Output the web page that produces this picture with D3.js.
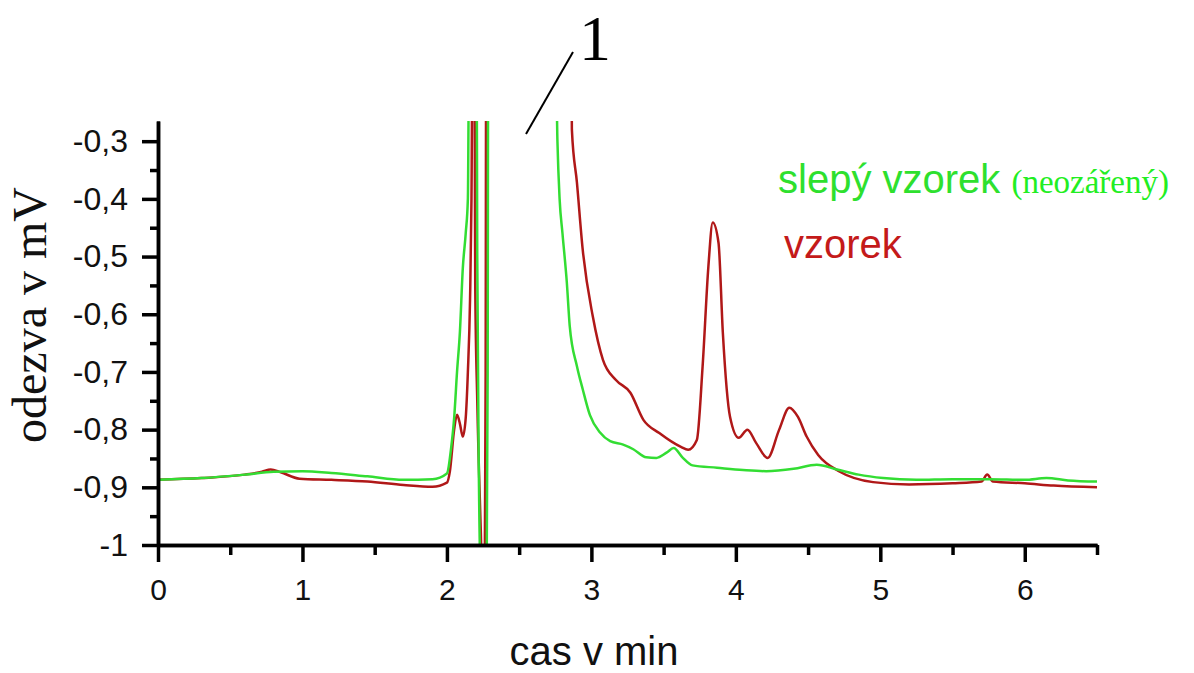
<!DOCTYPE html>
<html>
<head>
<meta charset="utf-8">
<script src="https://cdn.jsdelivr.net/npm/d3@7"></script>
<style>
  body { margin: 0; background: #fff; }
  svg { display: block; }
</style>
</head>
<body>
<svg width="1194" height="673"></svg>
<script>
// slepý vzorek (green) - cas v min / odezva v mV
const blankX = [0, 0.3, 0.6, 0.8, 1.0, 1.2, 1.45, 1.7, 1.9, 2.0, 2.03, 2.05, 2.07, 2.09, 2.11, 2.13, 2.145,
  2.155, 2.205, 2.21, 2.222, 2.235, 2.275, 2.282, 2.286, 2.75, 2.765, 2.78, 2.80, 2.83, 2.85, 2.90, 2.94, 2.99,
  3.06, 3.13, 3.22, 3.29, 3.38, 3.45, 3.52, 3.57, 3.63, 3.70, 3.87, 4.05, 4.21, 4.40, 4.56, 4.70, 4.85, 5.02,
  5.25, 5.5, 5.75, 6.0, 6.15, 6.3, 6.5];
const blankY = [-0.887, -0.884, -0.878, -0.873, -0.872, -0.875, -0.881, -0.887, -0.886, -0.876, -0.83, -0.78,
  -0.70, -0.63, -0.52, -0.46, -0.40, -0.1, -0.1, -0.5, -0.9, -1.05, -1.05, -0.7, -0.1, -0.1, -0.30, -0.40, -0.46,
  -0.545, -0.62, -0.69, -0.73, -0.775, -0.805, -0.82, -0.826, -0.834, -0.848, -0.849, -0.840, -0.832, -0.848,
  -0.862, -0.866, -0.870, -0.872, -0.868, -0.861, -0.869, -0.878, -0.884, -0.887, -0.886, -0.886, -0.887, -0.884,
  -0.888, -0.890];

// vzorek (red)
const sampleX = [0, 0.3, 0.6, 0.72, 0.78, 0.85, 0.98, 1.2, 1.45, 1.7, 1.9, 2.0, 2.02, 2.05, 2.07, 2.09, 2.11,
  2.13, 2.145, 2.16, 2.17, 2.178, 2.19, 2.196, 2.21, 2.235, 2.243, 2.262, 2.268, 2.272, 2.86, 2.865, 2.90, 2.94,
  3.01, 3.08, 3.17, 3.27, 3.36, 3.47, 3.62, 3.67, 3.73, 3.77, 3.81, 3.84, 3.88, 3.91, 3.96, 4.02, 4.08, 4.14,
  4.22, 4.30, 4.37, 4.43, 4.49, 4.57, 4.72, 4.95, 5.2, 5.5, 5.7, 5.74, 5.78, 6.0, 6.2, 6.5];
const sampleY = [-0.887, -0.884, -0.878, -0.873, -0.869, -0.874, -0.885, -0.887, -0.890, -0.896, -0.899, -0.892,
  -0.873, -0.80, -0.774, -0.79, -0.812, -0.78, -0.70, -0.575, -0.40, -0.1, -0.1, -0.55, -0.75, -0.98, -1.05,
  -1.05, -0.7, -0.1, -0.1, -0.28, -0.372, -0.488, -0.604, -0.679, -0.714, -0.736, -0.783, -0.806, -0.830, -0.835,
  -0.818, -0.69, -0.517, -0.441, -0.476, -0.632, -0.778, -0.814, -0.800, -0.823, -0.849, -0.800, -0.762, -0.778,
  -0.812, -0.844, -0.873, -0.891, -0.895, -0.893, -0.890, -0.878, -0.890, -0.893, -0.897, -0.900];

const xTicks = [0, 1, 2, 3, 4, 5, 6];
const xMinor = [0.5, 1.5, 2.5, 3.5, 4.5, 5.5, 6.5];
const yTicks = [-1, -0.9, -0.8, -0.7, -0.6, -0.5, -0.4, -0.3];
const yMinor = [-0.95, -0.85, -0.75, -0.65, -0.55, -0.45, -0.35];

const svg = d3.select('svg');
const x = d3.scaleLinear().domain([0, 6.5]).range([158, 1097]);
const y = d3.scaleLinear().domain([-1, -0.265]).range([545, 121]);
const fmt = d => d === -1 ? '-1' : d3.format('.1f')(d).replace('.', ',').replace('−', '-');

svg.append('clipPath').attr('id', 'plot')
  .append('rect').attr('x', 158).attr('y', 121).attr('width', 950).attr('height', 424);

const line = d3.line().x(d => x(d[0])).y(d => y(d[1])).curve(d3.curveMonotoneX);
const red = sampleX.map((v, i) => [v, sampleY[i]]);
const green = blankX.map((v, i) => [v, blankY[i]]);

const g = svg.append('g').attr('clip-path', 'url(#plot)');
g.append('path').datum(red).attr('d', line)
  .attr('fill', 'none').attr('stroke', '#b01818').attr('stroke-width', 2.5).attr('stroke-linejoin', 'round');
g.append('path').datum(green).attr('d', line)
  .attr('fill', 'none').attr('stroke', '#33dd33').attr('stroke-width', 2.5).attr('stroke-linejoin', 'round');

// axes
const yAxis = svg.append('g').attr('transform', 'translate(158,0)')
  .call(d3.axisLeft(y).tickValues(yTicks).tickSize(16).tickPadding(14).tickSizeOuter(0).tickFormat(fmt));
svg.append('g').attr('transform', 'translate(158,0)')
  .call(d3.axisLeft(y).tickValues(yMinor).tickSize(8).tickSizeOuter(0).tickFormat(''));
const xAxis = svg.append('g').attr('transform', 'translate(0,545)')
  .call(d3.axisBottom(x).tickValues(xTicks).tickSize(17).tickPadding(17).tickSizeOuter(0).tickFormat(d3.format('d')));
svg.append('g').attr('transform', 'translate(0,545)')
  .call(d3.axisBottom(x).tickValues(xMinor).tickSize(10).tickSizeOuter(0).tickFormat(''));

svg.selectAll('.domain').attr('stroke', '#000').attr('stroke-width', 3.5);
svg.selectAll('.tick line').attr('stroke', '#000').attr('stroke-width', 3.5);
svg.selectAll('.tick text').attr('fill', '#111').style('font-family', '"Liberation Sans", Arial, sans-serif');
yAxis.selectAll('text').style('font-size', '32px');
xAxis.selectAll('text').style('font-size', '30px');

// axis titles
svg.append('text').attr('transform', 'translate(46,315) rotate(-90)')
  .attr('text-anchor', 'middle')
  .style('font-family', '"Liberation Serif", "Times New Roman", serif').style('font-size', '48px')
  .attr('fill', '#111').text('odezva v mV');
svg.append('text').attr('x', 594).attr('y', 665).attr('text-anchor', 'middle')
  .style('font-family', '"Liberation Sans", Arial, sans-serif').style('font-size', '40px')
  .attr('fill', '#111').text('cas v min');

// legend labels
const leg = svg.append('text').attr('x', 778).attr('y', 193)
  .style('font-family', '"Liberation Sans", Arial, sans-serif').style('font-size', '40px').attr('fill', '#2ee02e');
leg.append('tspan').text('slepý vzorek ');
leg.append('tspan').style('font-family', '"Liberation Serif", "Times New Roman", serif').style('font-size', '33px')
  .attr('fill', '#22ee22').text('(neozářený)');
svg.append('text').attr('x', 784).attr('y', 258)
  .style('font-family', '"Liberation Sans", Arial, sans-serif').style('font-size', '40px')
  .attr('fill', '#c41a1a').text('vzorek');

// peak annotation
svg.append('line').attr('x1', 526).attr('y1', 134).attr('x2', 573).attr('y2', 52)
  .attr('stroke', '#000').attr('stroke-width', 2);
svg.append('text').attr('x', 595).attr('y', 60).attr('text-anchor', 'middle')
  .style('font-family', '"Liberation Serif", "Times New Roman", serif').style('font-size', '64px')
  .attr('fill', '#000').text('1');
</script>
</body>
</html>
